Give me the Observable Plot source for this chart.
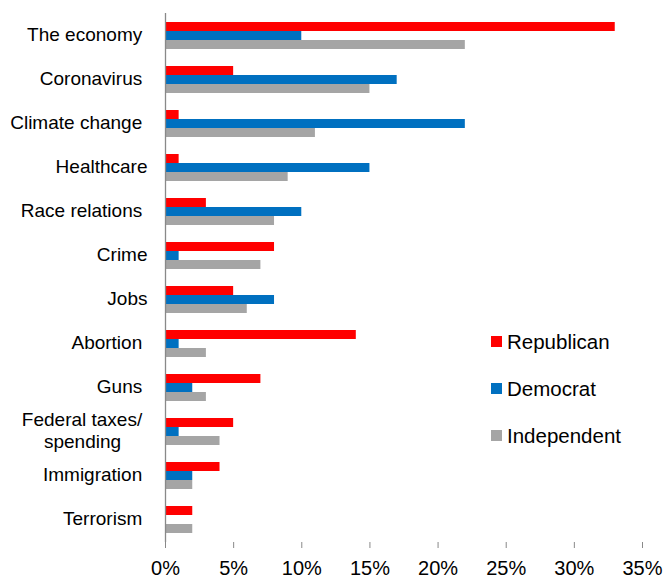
<!DOCTYPE html>
<html><head><meta charset="utf-8">
<script src="https://cdn.jsdelivr.net/npm/d3@7"></script>
<script src="https://cdn.jsdelivr.net/npm/@observablehq/plot@0.6"></script>
<style>
body{margin:0;background:#fff;font-family:"Liberation Sans",Arial,sans-serif;}
#wrap{position:relative;width:665px;height:578px;}
#legend{position:absolute;left:491px;top:318px;}
.item{display:flex;align-items:center;height:47px;font-size:20.5px;color:#000;}
.sw{width:11px;height:11px;margin-right:5px;}
</style></head>
<body><div id="wrap"><div id="legend"></div></div>
<script>
const categories = ["The economy\u00A0","Coronavirus\u00A0","Climate change\u00A0","Healthcare","Race relations\u00A0","Crime","Jobs","Abortion\u00A0","Guns\u00A0","Federal taxes/\u00A0\nspending\u00A0\u00A0\u00A0\u00A0\u00A0","Immigration\u00A0","Terrorism\u00A0"];
const series = ["Republican","Democrat","Independent"];
const colors = ["#FF0000","#0070C0","#A5A5A5"];
const republican = [33,5,1,1,3,8,5,14,7,5,4,2];
const democrat = [10,17,22,15,10,1,8,1,2,1,2,0];
const independent = [22,15,11,9,8,7,6,3,3,4,2,2];
const xTicks = [0,5,10,15,20,25,30,35];

const values = [republican, democrat, independent];
const rows = [];
series.forEach((s,si)=>categories.forEach((c,ci)=>rows.push({party:s, category:c, value:values[si][ci]})));
const insets = [{insetTop:0,insetBottom:18},{insetTop:9,insetBottom:9},{insetTop:18,insetBottom:0}];

const chart = Plot.plot({
  width:665, height:578,
  marginLeft:165, marginRight:23, marginTop:13, marginBottom:36,
  style:{fontFamily:'"Liberation Sans",Arial,sans-serif', color:"#000", background:"#fff", overflow:"visible"},
  x:{domain:[0,35]},
  y:{domain:categories, paddingInner:0.39, paddingOuter:0.18},
  marks:[
    ...series.map((s,i)=>Plot.barX(rows.filter(r=>r.party===s), {x:"value", y:"category", fill:colors[i], ...insets[i]})),
    Plot.ruleX([0], {stroke:"#898989", strokeWidth:1.3}),
    Plot.axisX({ticks:xTicks, tickFormat:d=>d+"%", tickSize:6, tickPadding:12, fontSize:20, stroke:"#898989", fill:"#000", line:true, label:null}),
    Plot.axisY({tickSize:0, tickPadding:18, fontSize:19, lineHeight:1.14, fill:"#000", label:null, dy:-2})
  ]
});
document.getElementById("wrap").prepend(chart);

const legend = document.getElementById("legend");
series.forEach((s,i)=>{
  const it = document.createElement("div"); it.className="item";
  const sw = document.createElement("div"); sw.className="sw"; sw.style.background=colors[i];
  const t = document.createElement("span"); t.textContent=s;
  it.append(sw,t); legend.append(it);
});
</script></body></html>
